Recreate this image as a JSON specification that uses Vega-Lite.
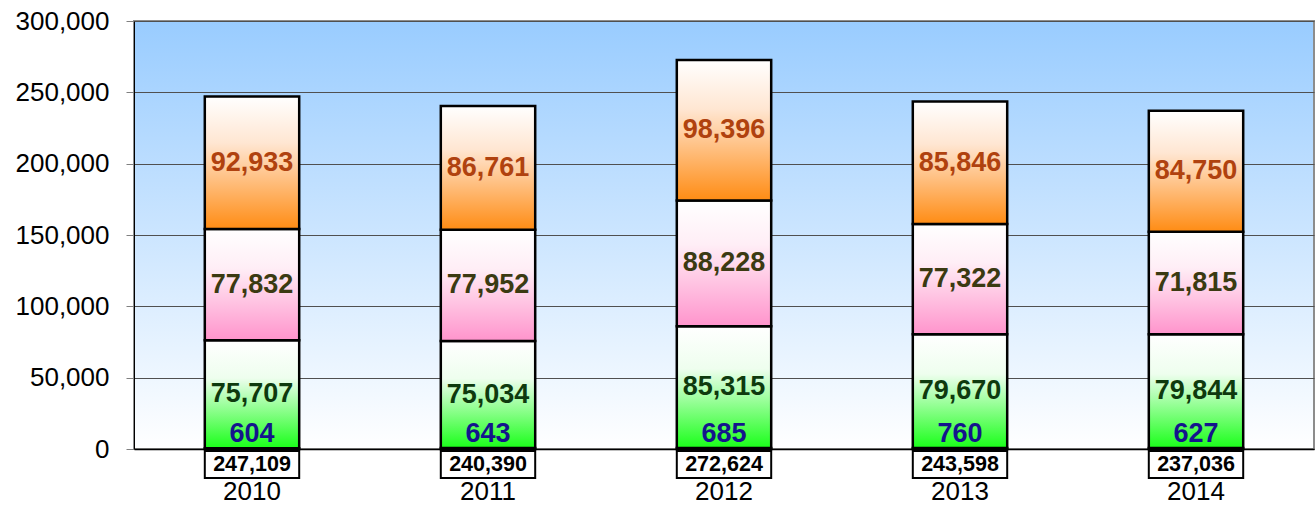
{
  "$schema": "https://vega.github.io/schema/vega-lite/v6.json",
  "padding": {"left": 14, "top": 7, "right": 0, "bottom": 0},
  "background": "white",
  "bounds": "flush",
  "config": {
    "font": "Liberation Sans",
    "axis": {"labelFont": "Liberation Sans"},
    "axisY": {"labelFontSize": 26, "labelColor": "#000000", "labelPadding": 17, "tickSize": 8, "tickColor": "#808080", "domainColor": "#000000", "gridColor": "#505050", "gridWidth": 1},
    "text": {"font": "Liberation Sans"}
  },
  "datasets": {
    "segments": [
      {"year": "2010", "series": "s0", "order": 0, "value": 604},
      {"year": "2010", "series": "s1", "order": 1, "value": 75707},
      {"year": "2010", "series": "s2", "order": 2, "value": 77832},
      {"year": "2010", "series": "s3", "order": 3, "value": 92933},
      {"year": "2011", "series": "s0", "order": 0, "value": 643},
      {"year": "2011", "series": "s1", "order": 1, "value": 75034},
      {"year": "2011", "series": "s2", "order": 2, "value": 77952},
      {"year": "2011", "series": "s3", "order": 3, "value": 86761},
      {"year": "2012", "series": "s0", "order": 0, "value": 685},
      {"year": "2012", "series": "s1", "order": 1, "value": 85315},
      {"year": "2012", "series": "s2", "order": 2, "value": 88228},
      {"year": "2012", "series": "s3", "order": 3, "value": 98396},
      {"year": "2013", "series": "s0", "order": 0, "value": 760},
      {"year": "2013", "series": "s1", "order": 1, "value": 79670},
      {"year": "2013", "series": "s2", "order": 2, "value": 77322},
      {"year": "2013", "series": "s3", "order": 3, "value": 85846},
      {"year": "2014", "series": "s0", "order": 0, "value": 627},
      {"year": "2014", "series": "s1", "order": 1, "value": 79844},
      {"year": "2014", "series": "s2", "order": 2, "value": 71815},
      {"year": "2014", "series": "s3", "order": 3, "value": 84750}
    ],
    "totals": [
      {"year": "2010", "total": 247109},
      {"year": "2011", "total": 240390},
      {"year": "2012", "total": 272624},
      {"year": "2013", "total": 243598},
      {"year": "2014", "total": 237036}
    ]
  },
  "spacing": 2,
  "vconcat": [
    {
      "width": 1180,
      "height": 428,
      "data": {"name": "segments"},
      "transform": [
        {"stack": "value", "groupby": ["year"], "sort": [{"field": "order", "order": "ascending"}], "as": ["v0", "v1"]}
      ],
      "view": {
        "fill": {"gradient": "linear", "x1": 0, "y1": 0, "x2": 0, "y2": 1, "stops": [{"offset": 0, "color": "#99ccff"}, {"offset": 1, "color": "#ffffff"}]},
        "stroke": "#8c8c8c",
        "strokeWidth": 2
      },
      "encoding": {
        "x": {
          "field": "year", "type": "nominal",
          "scale": {"paddingInner": 0.6, "paddingOuter": 0.3},
          "axis": {"labels": false, "title": null, "domainColor": "#000000", "domainWidth": 1.5, "tickColor": "#808080", "tickSize": 7, "bandPosition": 0, "grid": false}
        }
      },
      "layer": [
        {
          "transform": [{"filter": {"field": "series", "equal": "s0"}}],
          "mark": {"type": "bar", "stroke": "#000000", "strokeWidth": 2.5, "fill": {"gradient": "linear", "x1": 0, "y1": 0, "x2": 0, "y2": 1, "stops": [{"offset": 0, "color": "#ffffff"}, {"offset": 1, "color": "#1aff1a"}]}},
          "encoding": {
            "y": {"field": "v0", "type": "quantitative", "scale": {"domain": [0, 300000], "nice": false},
              "axis": {"title": null, "tickCount": 6, "labelExpr": "format(datum.value, ',')", "grid": true}},
            "y2": {"field": "v1"}
          }
        },
        {
          "transform": [{"filter": {"field": "series", "equal": "s1"}}],
          "mark": {"type": "bar", "stroke": "#000000", "strokeWidth": 2.5, "fill": {"gradient": "linear", "x1": 0, "y1": 0, "x2": 0, "y2": 1, "stops": [{"offset": 0, "color": "#ffffff"}, {"offset": 0.35, "color": "#eefeee"}, {"offset": 1, "color": "#1aff1a"}]}},
          "encoding": {"y": {"field": "v0", "type": "quantitative"}, "y2": {"field": "v1"}}
        },
        {
          "transform": [{"filter": {"field": "series", "equal": "s2"}}],
          "mark": {"type": "bar", "stroke": "#000000", "strokeWidth": 2.5, "fill": {"gradient": "linear", "x1": 0, "y1": 0, "x2": 0, "y2": 1, "stops": [{"offset": 0, "color": "#ffffff"}, {"offset": 0.35, "color": "#ffeef6"}, {"offset": 1, "color": "#ff94cc"}]}},
          "encoding": {"y": {"field": "v0", "type": "quantitative"}, "y2": {"field": "v1"}}
        },
        {
          "transform": [{"filter": {"field": "series", "equal": "s3"}}],
          "mark": {"type": "bar", "stroke": "#000000", "strokeWidth": 2.5, "fill": {"gradient": "linear", "x1": 0, "y1": 0, "x2": 0, "y2": 1, "stops": [{"offset": 0, "color": "#ffffff"}, {"offset": 0.35, "color": "#ffe6d2"}, {"offset": 1, "color": "#ff8c14"}]}},
          "encoding": {"y": {"field": "v0", "type": "quantitative"}, "y2": {"field": "v1"}}
        },
        {
          "transform": [
            {"filter": {"field": "series", "oneOf": ["s1", "s2", "s3"]}},
            {"fold": ["v0", "v1"], "as": ["edge", "pos"]}
          ],
          "mark": {"type": "text", "fontSize": 27, "fontWeight": "bold", "baseline": "middle", "align": "center"},
          "encoding": {
            "y": {"aggregate": "mean", "field": "pos", "type": "quantitative"},
            "text": {"field": "value", "type": "quantitative", "format": ","},
            "color": {"field": "series", "type": "nominal", "scale": {"domain": ["s1", "s2", "s3"], "range": ["#0e3a0e", "#3b3a12", "#b0420f"]}, "legend": null}
          }
        },
        {
          "transform": [{"filter": {"field": "series", "equal": "s0"}}],
          "mark": {"type": "text", "fontSize": 27, "fontWeight": "bold", "baseline": "middle", "align": "center", "dy": -14, "color": "#14148c"},
          "encoding": {
            "y": {"field": "v1", "type": "quantitative"},
            "text": {"field": "value", "type": "quantitative", "format": ","}
          }
        }
      ]
    },
    {
      "width": 1180,
      "height": 27,
      "data": {"name": "totals"},
      "view": {"stroke": null},
      "encoding": {
        "x": {
          "field": "year", "type": "nominal",
          "scale": {"paddingInner": 0.6, "paddingOuter": 0.3},
          "axis": {"title": null, "domain": false, "ticks": false, "labelFontSize": 26, "labelPadding": 0, "labelColor": "#000000", "labelAngle": 0}
        }
      },
      "layer": [
        {
          "mark": {"type": "rect", "fill": "#ffffff", "stroke": "#000000", "strokeWidth": 2},
          "encoding": {
            "y": {"datum": 0, "type": "quantitative", "scale": {"domain": [0, 1]}, "axis": null},
            "y2": {"datum": 1}
          }
        },
        {
          "mark": {"type": "text", "fontSize": 21.5, "fontWeight": "bold", "color": "#000000", "baseline": "middle"},
          "encoding": {
            "y": {"datum": 0.5, "type": "quantitative"},
            "text": {"field": "total", "type": "quantitative", "format": ","}
          }
        }
      ]
    }
  ]
}
